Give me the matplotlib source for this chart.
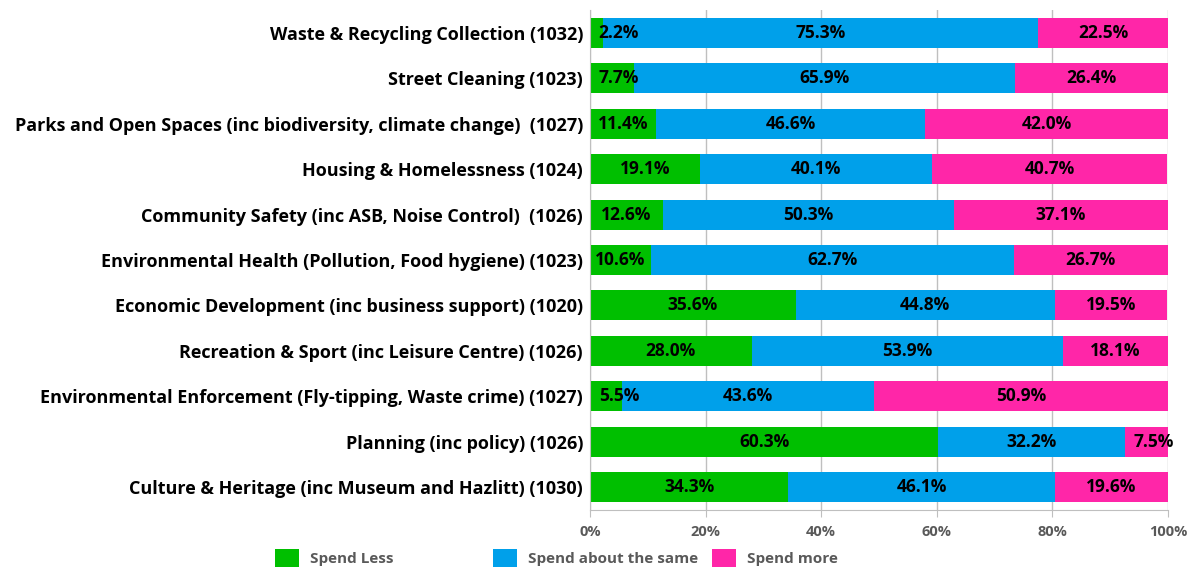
import numpy as np
import matplotlib
matplotlib.use("Agg")
import matplotlib.pyplot as plt
from matplotlib.patches import Patch
from matplotlib.ticker import FuncFormatter

categories = [
    "Waste & Recycling Collection (1032)",
    "Street Cleaning (1023)",
    "Parks and Open Spaces (inc biodiversity, climate change)  (1027)",
    "Housing & Homelessness (1024)",
    "Community Safety (inc ASB, Noise Control)  (1026)",
    "Environmental Health (Pollution, Food hygiene) (1023)",
    "Economic Development (inc business support) (1020)",
    "Recreation & Sport (inc Leisure Centre) (1026)",
    "Environmental Enforcement (Fly-tipping, Waste crime) (1027)",
    "Planning (inc policy) (1026)",
    "Culture & Heritage (inc Museum and Hazlitt) (1030)",
]
spend_less = [2.2, 7.7, 11.4, 19.1, 12.6, 10.6, 35.6, 28.0, 5.5, 60.3, 34.3]
spend_same = [75.3, 65.9, 46.6, 40.1, 50.3, 62.7, 44.8, 53.9, 43.6, 32.2, 46.1]
spend_more = [22.5, 26.4, 42.0, 40.7, 37.1, 26.7, 19.5, 18.1, 50.9, 7.5, 19.6]
series_names = ["Spend Less", "Spend about the same", "Spend more"]

colors = ["#00BF00", "#00A0EA", "#FF26A8"]
grey = "#595959"

plt.rcParams['font.family'] = ['Open Sans', 'DejaVu Sans']
plt.rcParams['font.weight'] = 'bold'

fig = plt.figure(figsize=(11.89, 5.67), dpi=100)
ax = fig.add_axes([0.4962, 0.1005, 0.4861, 0.8819])

y = np.arange(len(categories))
left = np.zeros(len(categories))
for vals, col in zip([spend_less, spend_same, spend_more], colors):
    vals = np.array(vals)
    ax.barh(y, vals, left=left, height=0.66, color=col, zorder=2)
    for yi, l, v in zip(y, left, vals):
        xc = max(l + v / 2, l + 5.0)
        ax.text(xc, yi, f"{v:.1f}%", ha='center', va='center',
                fontsize=12.5, fontweight='bold', color='black', zorder=3)
    left = left + vals

ax.set_xlim(0, 100)
ax.set_ylim(len(categories) - 0.5, -0.5)
ax.set_xticks(np.arange(0, 101, 20))
ax.xaxis.set_major_formatter(FuncFormatter(lambda v, p: f"{v:.0f}%"))
ax.set_yticks(y)
ax.set_yticklabels(categories, fontsize=13, fontweight='bold', color='black')
ax.tick_params(axis='y', length=0, pad=5)
ax.tick_params(axis='x', colors='#BFBFBF', labelcolor=grey, labelsize=10.5,
               length=5, direction='out', pad=6)
for lab in ax.get_xticklabels():
    lab.set_fontweight('bold')

ax.grid(axis='x', color='#BFBFBF', linewidth=1, zorder=0)
ax.set_axisbelow(True)
for s in ['top', 'right']:
    ax.spines[s].set_visible(False)
ax.spines['left'].set_color('#BFBFBF')
ax.spines['bottom'].set_color('#BFBFBF')

# legend entries placed individually (uneven spacing as in the original)
legend_x = [0.2313, 0.4146, 0.5988]
for name, col, lx in zip(series_names, colors, legend_x):
    fig.legend(handles=[Patch(facecolor=col)], labels=[name],
               loc='center left', bbox_to_anchor=(lx, 0.015), frameon=False,
               handlelength=1.6, handleheight=1.6, handletextpad=0.7,
               borderpad=0, borderaxespad=0, prop={'weight': 'bold', 'size': 11},
               labelcolor=grey)

fig.savefig("out.png", dpi=100)
